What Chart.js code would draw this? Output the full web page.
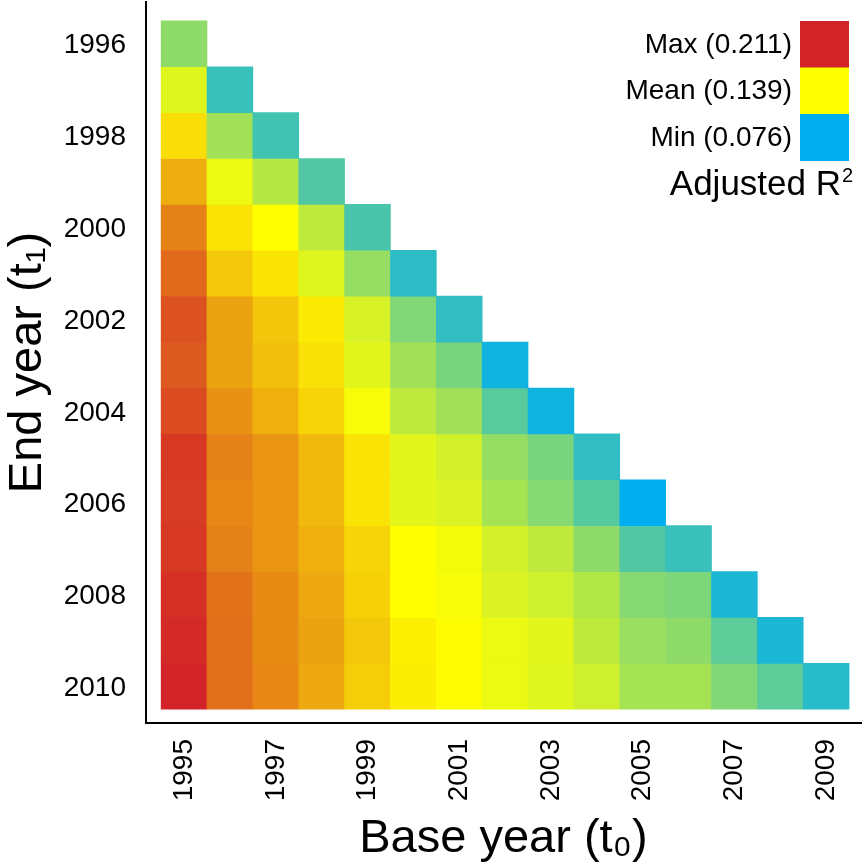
<!DOCTYPE html>
<html><head><meta charset="utf-8">
<script src="https://cdn.jsdelivr.net/npm/chart.js@4.4.1/dist/chart.umd.min.js"></script>
<style>html,body{margin:0;padding:0;background:#fff}#wrap{width:862px;height:867px}</style>
</head><body><div id="wrap"><canvas id="c" width="862" height="867"></canvas></div>
<script>
// Base years (x) and end years (y)
const baseYears = [1995,1996,1997,1998,1999,2000,2001,2002,2003,2004,2005,2006,2007,2008,2009];
const endYears  = [1996,1997,1998,1999,2000,2001,2002,2003,2004,2005,2006,2007,2008,2009,2010];
const xTickYears = [1995,1997,1999,2001,2003,2005,2007,2009];
const yTickYears = [1996,1998,2000,2002,2004,2006,2008,2010];

// Adjusted R² per end year row; entry i corresponds to base year baseYears[i]
const r2_1996 = [0.111];
const r2_1997 = [0.131,0.090];
const r2_1998 = [0.150,0.116,0.092];
const r2_1999 = [0.166,0.134,0.121,0.096];
const r2_2000 = [0.180,0.148,0.139,0.123,0.094];
const r2_2001 = [0.188,0.157,0.148,0.131,0.113,0.087];
const r2_2002 = [0.196,0.169,0.158,0.146,0.129,0.108,0.088];
const r2_2003 = [0.193,0.169,0.160,0.149,0.132,0.116,0.106,0.080];
const r2_2004 = [0.198,0.175,0.165,0.153,0.137,0.123,0.116,0.098,0.080];
const r2_2005 = [0.204,0.180,0.174,0.162,0.148,0.132,0.128,0.113,0.106,0.088];
const r2_2006 = [0.203,0.178,0.174,0.162,0.148,0.132,0.130,0.117,0.109,0.097,0.076];
const r2_2007 = [0.204,0.180,0.174,0.165,0.153,0.139,0.136,0.128,0.123,0.111,0.096,0.090];
const r2_2008 = [0.207,0.185,0.177,0.167,0.154,0.139,0.137,0.130,0.127,0.120,0.109,0.107,0.083];
const r2_2009 = [0.209,0.186,0.177,0.169,0.157,0.144,0.140,0.134,0.132,0.123,0.114,0.111,0.099,0.083];
const r2_2010 = [0.211,0.186,0.178,0.167,0.155,0.145,0.140,0.134,0.131,0.127,0.117,0.117,0.108,0.099,0.086];
const r2Rows = [r2_1996,r2_1997,r2_1998,r2_1999,r2_2000,r2_2001,r2_2002,r2_2003,r2_2004,r2_2005,r2_2006,r2_2007,r2_2008,r2_2009,r2_2010];

// Colour scale anchors
const scaleMin = 0.076, scaleMean = 0.139, scaleMax = 0.211;
const legendLabels = ['Max (0.211)','Mean (0.139)','Min (0.076)'];
const legendTitle = 'Adjusted R';

const cMin = [0,174,239], cMean = [255,255,0], cMax = [210,35,40];
function lerp(a,b,t){return a.map((v,i)=>Math.round(v+(b[i]-v)*t));}
function colorFor(v){
  let c;
  if (v <= scaleMean){ c = lerp(cMin,cMean,Math.max(0,(v-scaleMin)/(scaleMean-scaleMin))); }
  else { c = lerp(cMean,cMax,Math.min(1,(v-scaleMean)/(scaleMax-scaleMean))); }
  return 'rgb('+c.join(',')+')';
}

const FONT = '"Liberation Sans", Arial, Helvetica, sans-serif';

const datasets = endYears.map((ey,ri)=>({
  label: String(ey),
  data: r2Rows[ri].map((v,ci)=>({x: baseYears[ci], y:[ey-0.5, ey+0.5], v})),
  backgroundColor: ctx => colorFor(ctx.raw.v),
  borderWidth: 0,
  grouped: false,
  barPercentage: 1,
  categoryPercentage: 1
}));

const legendPlugin = {
  id:'heatLegend',
  afterDraw(chart){
    const ctx = chart.ctx;
    const ca = chart.chartArea;
    const boxR = ca.right - 12, boxW = 49, boxH = 46.5, top = 21;
    const cols = [colorFor(scaleMax), colorFor(scaleMean), colorFor(scaleMin)];
    ctx.save();
    cols.forEach((c,i)=>{
      ctx.fillStyle = c;
      ctx.fillRect(boxR-boxW, top+i*boxH, boxW, boxH+0.5);
      ctx.fillStyle = '#000';
      ctx.font = '28px '+FONT;
      ctx.textAlign = 'right';
      ctx.textBaseline = 'middle';
      ctx.fillText(legendLabels[i], boxR-boxW-8, top+i*boxH+boxH/2+1);
    });
    ctx.font = '35px '+FONT;
    ctx.textAlign = 'right';
    ctx.textBaseline = 'alphabetic';
    const supW = 12;
    ctx.fillText(legendTitle, boxR+4-supW, 195);
    ctx.font = '20px '+FONT;
    ctx.textAlign = 'left';
    ctx.fillText('2', boxR+4-supW+1, 182);
    ctx.restore();
  }
};

new Chart(document.getElementById('c'), {
  type:'bar',
  data:{datasets},
  options:{
    responsive:false,
    animation:false,
    layout:{padding:{top:2,right:1,left:0,bottom:0}},
    plugins:{legend:{display:false},tooltip:{enabled:false}},
    scales:{
      x:{
        type:'linear', min:1994.17, max:2009.76, offset:false,
        grid:{display:false},
        border:{display:true,color:'#000',width:2},
        afterBuildTicks: s => { s.ticks = xTickYears.map(v=>({value:v})); },
        afterFit: s => { s.height = 144; s.paddingLeft = 0; s.paddingRight = 0; },
        ticks:{color:'#000',font:{size:28,family:FONT},minRotation:90,maxRotation:90,padding:8,autoSkip:false,callback:v=>String(v)},
        title:{display:true,text:'Base year (t\u2080)',color:'#000',font:{size:47,family:FONT},padding:{top:0,bottom:0}}
      },
      y:{
        type:'linear', reverse:true, min:1995.09, max:2010.8, offset:false,
        grid:{display:false},
        border:{display:true,color:'#000',width:2},
        afterBuildTicks: s => { s.ticks = yTickYears.map(v=>({value:v})); },
        afterFit: s => { s.width = 146; s.paddingTop = 0; s.paddingBottom = 0; },
        ticks:{color:'#000',font:{size:28,family:FONT},padding:12,labelOffset:2,autoSkip:false,callback:v=>String(v)},
        title:{display:true,text:'End year (t\u2081)',color:'#000',font:{size:47,family:FONT},padding:{top:0,bottom:0}}
      }
    }
  },
  plugins:[legendPlugin]
});
</script>
</body></html>
